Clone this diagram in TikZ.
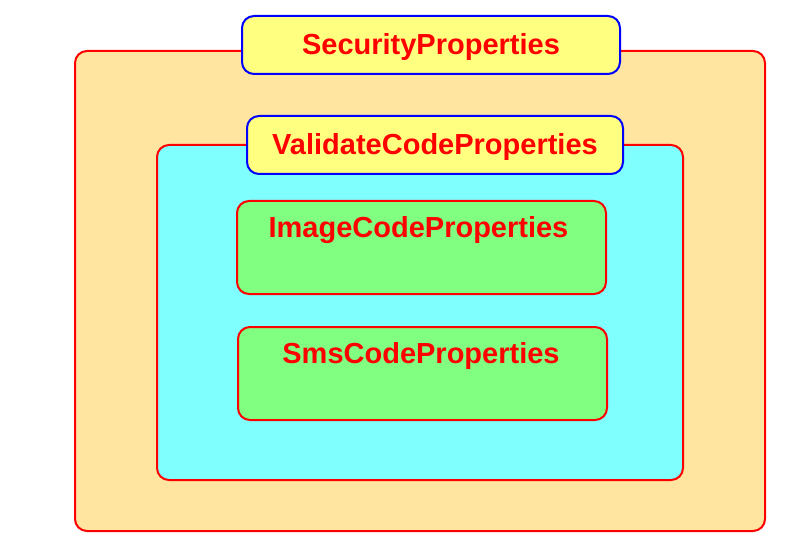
\documentclass[tikz,border=0pt]{standalone}
\usepackage{fontspec}
\setmainfont{Liberation Sans}
\usetikzlibrary{positioning}
\definecolor{frameorange}{HTML}{FFE59F}
\definecolor{titleyellow}{HTML}{FFFF80}
\definecolor{boxcyan}{HTML}{80FFFF}
\definecolor{boxgreen}{HTML}{80FF80}
\tikzset{
  frame/.style={draw=red, line width=2pt, rounded corners=12pt, inner sep=0pt},
  titlebox/.style={draw=blue, fill=titleyellow, line width=2pt, rounded corners=12pt, inner sep=0pt},
  proptext/.style={text=red, font=\fontsize{29}{31}\selectfont\bfseries, text height=20pt, text depth=0pt}
}
\begin{document}
\begin{tikzpicture}[x=1pt, y=-1pt]
	\useasboundingbox (0,0) rectangle (803,548);
	\node[frame, fill=frameorange, minimum width=690pt, minimum height=480pt] (security) at (420,291) {};
	\node[titlebox, minimum width=378pt, minimum height=58pt, proptext] (securitytitle) at (431,45) {SecurityProperties};
	\node[frame, fill=boxcyan, minimum width=526pt, minimum height=335pt] (validate) at (420,312.5) {};
	\node[titlebox, minimum width=376pt, minimum height=58pt, proptext] (validatetitle) at (435,145) {ValidateCodeProperties};
	\node[frame, fill=boxgreen, minimum width=369pt, minimum height=93pt] (image) at (421.5,247.5) {};
	\node[proptext, below=27.5pt of image.north, anchor=center, xshift=-3pt] (imagetext) {ImageCodeProperties};
	\node[frame, fill=boxgreen, minimum width=369pt, minimum height=93pt] (sms) at (422.5,373.5) {};
	\node[proptext, below=27.5pt of sms.north, anchor=center, xshift=-1.5pt] (smstext) {SmsCodeProperties};
\end{tikzpicture}
\end{document}
